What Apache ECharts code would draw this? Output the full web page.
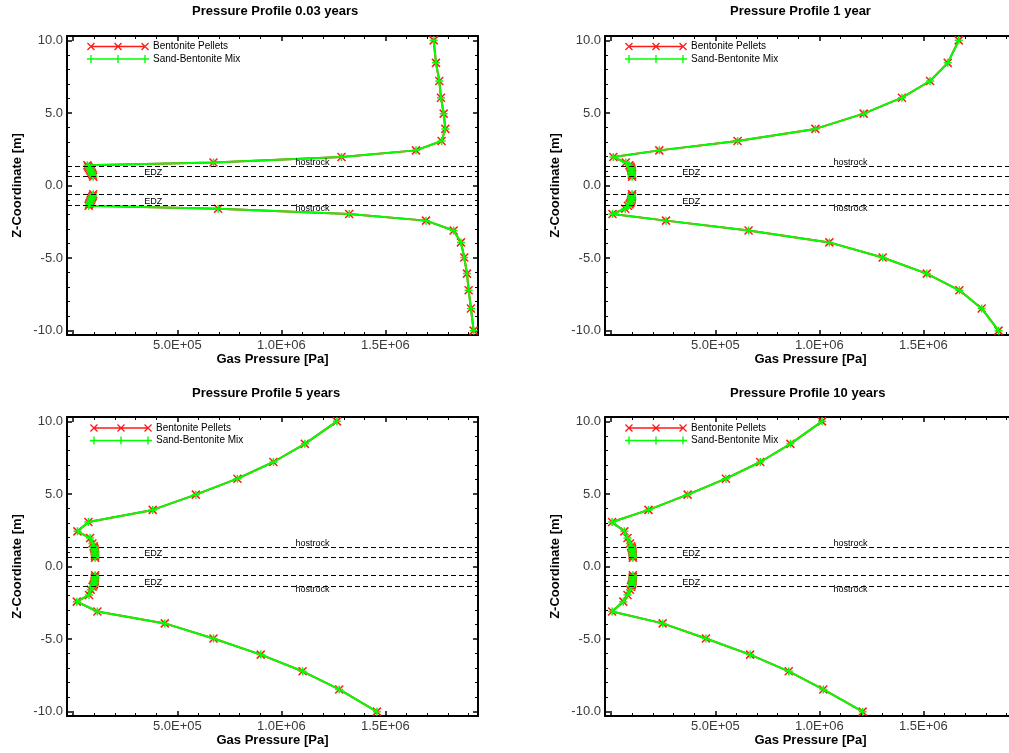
<!DOCTYPE html>
<html><head><meta charset="utf-8">
<script src="https://cdn.jsdelivr.net/npm/echarts@6/dist/echarts.min.js"></script>
<style>html,body{margin:0;padding:0;background:#fff}#c{width:1009px;height:753px}</style>
</head><body><div id="c"></div>
<script>
// ---------- data ----------
const seriesNames = ['Bentonite Pellets', 'Sand-Bentonite Mix'];
const titles = ['Pressure Profile 0.03 years', 'Pressure Profile 1 year', 'Pressure Profile 5 years', 'Pressure Profile 10 years'];
const xAxisName = 'Gas Pressure [Pa]';
const yAxisName = 'Z-Coordinate [m]';

// mesh z-coordinates (m), above and below the drift
const zUpper = [10.0, 8.45, 7.2, 6.05, 4.95, 3.9, 3.07, 2.42, 1.96, 1.58, 1.4, 1.3, 1.2, 1.1, 1.0, 0.9, 0.8, 0.7, 0.6];
const zLower = [-0.6, -0.7, -0.8, -0.9, -1.0, -1.1, -1.2, -1.3, -1.4, -1.6, -1.96, -2.42, -3.1, -3.92, -4.96, -6.07, -7.22, -8.47, -10.0];

// gas pressure (Pa) — both materials give the same profile
const p003Upper = [1732000, 1743000, 1759000, 1767000, 1780000, 1788000, 1770000, 1647000, 1289000, 674000, 68000, 72000, 76000, 80000, 84000, 88000, 91000, 94000, 96000];
const p003Lower = [96000, 94000, 91000, 88000, 85000, 82000, 79000, 77000, 74000, 696000, 1326000, 1695000, 1828000, 1863000, 1879000, 1892000, 1900000, 1911000, 1924000];
const p1Upper = [1670000, 1617000, 1532000, 1397000, 1213000, 981000, 607000, 231000, 10000, 70000, 87000, 92000, 95000, 97000, 98000, 99000, 100000, 100000, 100000];
const p1Lower = [100000, 100000, 99000, 98000, 97000, 95000, 92000, 88000, 80000, 67000, 6000, 263000, 660000, 1048000, 1304000, 1516000, 1673000, 1780000, 1861000];
const p5Upper = [1267000, 1113000, 962000, 789000, 589000, 382000, 73000, 20000, 81000, 92000, 98000, 100000, 102000, 103000, 104000, 104000, 105000, 105000, 105000];
const p5Lower = [105000, 105000, 104000, 104000, 103000, 102000, 100000, 97000, 93000, 84000, 76000, 17000, 116000, 440000, 674000, 901000, 1102000, 1278000, 1459000];
const p10Upper = [1013000, 861000, 716000, 551000, 367000, 179000, 4000, 63000, 78000, 90000, 95000, 98000, 100000, 101000, 102000, 103000, 103000, 104000, 104000];
const p10Lower = [104000, 104000, 103000, 103000, 102000, 101000, 100000, 98000, 95000, 90000, 78000, 58000, 4000, 247000, 455000, 667000, 853000, 1019000, 1208000];

const panelUpper = [p003Upper, p1Upper, p5Upper, p10Upper];
const panelLower = [p003Lower, p1Lower, p5Lower, p10Lower];

// zone boundaries and labels
const zoneLines = [1.32, 0.62, -0.63, -1.33];
const zoneLabelNames = ['hostrock', 'EDZ', 'EDZ', 'hostrock'];
const zoneLabelX = [1150000, 385000, 385000, 1150000];
const zoneLabelZ = [1.32, 0.62, -1.33, -1.33];
const zoneLabelSide = ['top', 'top', 'top', 'bottom'];

// axis ticks
const xRange = [-30000, 1945000];
const yRange = [-10.3, 10.3];
const xMajorTicks = [0, 500000, 1000000, 1500000];
const xLabelTicks = [500000, 1000000, 1500000];
const xMinorTicks = [100000, 200000, 300000, 400000, 600000, 700000, 800000, 900000, 1100000, 1200000, 1300000, 1400000, 1600000, 1700000, 1800000, 1900000];
const yMajorTicks = [-10, -5, 0, 5, 10];
const yMinorTicks = [-9, -8, -7, -6, -4, -3, -2, -1, 1, 2, 3, 4, 6, 7, 8, 9];

// ---------- layout / style ----------
const FONT = 'Liberation Sans, Arial, Helvetica, sans-serif';
const RED = '#ff1a1a', GREEN = '#00ff00';
const GW = 411, GH = 299;
const panels = [
  {left: 67, top: 36, titleLeft: 192, titleTop: 5, legendLeft: 87, legendTop: 41.5},
  {left: 605, top: 36, titleLeft: 730, titleTop: 5, legendLeft: 625, legendTop: 41.5},
  {left: 67, top: 417, titleLeft: 192, titleTop: 386.5, legendLeft: 90, legendTop: 423},
  {left: 605, top: 417, titleLeft: 730, titleTop: 386.5, legendLeft: 625, legendTop: 423}
];

const crossSym = 'path://M0,0L8,8M8,0L0,8';
const plusSym = 'path://M4,0L4,8M0,4L8,4';

function legendPath(kind) {
  const W = 62, cy = 4, cs = [4, 31, 58];
  let p = '';
  if (kind === 'x') {
    const t = 0.8, r = 3.5, d = 0.45;
    p += `M${cs[0]},${cy - t}L${cs[2]},${cy - t}L${cs[2]},${cy + t}L${cs[0]},${cy + t}Z`;
    cs.forEach(c => {
      p += `M${c - r + d},${cy - r - d}L${c + r + d},${cy + r - d}L${c + r - d},${cy + r + d}L${c - r - d},${cy - r + d}Z`;
      p += `M${c - r + d},${cy + r + d}L${c - r - d},${cy + r - d}L${c + r - d},${cy - r - d}L${c + r + d},${cy - r + d}Z`;
    });
  } else {
    const t = 0.8, w = 0.7;
    p += `M0,${cy - t}L${W},${cy - t}L${W},${cy + t}L0,${cy + t}Z`;
    cs.forEach(c => {
      p += `M${c - w},0L${c + w},0L${c + w},8L${c - w},8Z`;
    });
  }
  return 'path://' + p;
}

function fmtSci(v) {
  const e = Math.floor(Math.log10(v) + 1e-9);
  const m = v / Math.pow(10, e);
  return m.toFixed(1) + 'E+' + String(e).padStart(2, '0');
}

const grid = [], xAxis = [], yAxis = [], series = [], title = [], legend = [];

panels.forEach((pn, gi) => {
  grid.push({left: pn.left, top: pn.top, width: GW, height: GH, outerBoundsMode: 'none', containLabel: false});
  title.push({text: titles[gi], left: pn.titleLeft, top: pn.titleTop, padding: 0,
    textStyle: {fontSize: 13, fontWeight: 'bold', color: '#000', fontFamily: FONT}});
  legend.push({
    left: pn.legendLeft, top: pn.legendTop, orient: 'vertical', padding: 0,
    itemWidth: 62, itemHeight: 8, itemGap: 2.5, selectedMode: false,
    itemStyle: {borderWidth: 0},
    textStyle: {fontSize: 10, color: '#000', fontFamily: FONT, padding: [0, 0, 0, -1]},
    data: [{name: seriesNames[0], icon: legendPath('x')}, {name: seriesNames[1], icon: legendPath('plus')}]
  });

  const base = {gridIndex: gi, type: 'value', splitLine: {show: false}, axisPointer: {show: false}};
  const lineOn = {show: true, onZero: false, lineStyle: {color: '#000', width: 2}};
  const lineOff = {show: false, onZero: false};
  const majT = c => ({show: true, inside: true, length: 5, customValues: c, lineStyle: {color: '#000', width: 1.5}});
  const minT = c => ({show: true, inside: true, length: 3, customValues: c, lineStyle: {color: '#000', width: 1}});
  const xb = Object.assign({}, base, {min: xRange[0], max: xRange[1]});
  const yb = Object.assign({}, base, {min: yRange[0], max: yRange[1]});

  xAxis.push(
    Object.assign({}, xb, {position: 'bottom', axisLine: lineOn, axisTick: majT(xMajorTicks),
      axisLabel: {show: true, customValues: xLabelTicks, formatter: fmtSci, color: '#3a3a3a', fontSize: 13, fontFamily: FONT, margin: 4},
      name: xAxisName, nameLocation: 'middle', nameGap: 18,
      nameTextStyle: {fontWeight: 'bold', fontSize: 13, color: '#000', fontFamily: FONT}}),
    Object.assign({}, xb, {position: 'bottom', axisLine: lineOff, axisTick: minT(xMinorTicks), axisLabel: {show: false}}),
    Object.assign({}, xb, {position: 'top', axisLine: lineOn, axisTick: majT(xMajorTicks), axisLabel: {show: false}}),
    Object.assign({}, xb, {position: 'top', axisLine: lineOff, axisTick: minT(xMinorTicks), axisLabel: {show: false}})
  );
  yAxis.push(
    Object.assign({}, yb, {position: 'left', axisLine: lineOn, axisTick: majT(yMajorTicks),
      axisLabel: {show: true, customValues: yMajorTicks, formatter: v => v.toFixed(1), color: '#3a3a3a', fontSize: 13, fontFamily: FONT, margin: 4},
      name: yAxisName, nameLocation: 'middle', nameGap: 43,
      nameTextStyle: {fontWeight: 'bold', fontSize: 13, color: '#000', fontFamily: FONT}}),
    Object.assign({}, yb, {position: 'left', axisLine: lineOff, axisTick: minT(yMinorTicks), axisLabel: {show: false}}),
    Object.assign({}, yb, {position: 'right', axisLine: lineOn, axisTick: majT(yMajorTicks), axisLabel: {show: false}}),
    Object.assign({}, yb, {position: 'right', axisLine: lineOff, axisTick: minT(yMinorTicks), axisLabel: {show: false}})
  );

  const up = panelUpper[gi].map((p, i) => [p, zUpper[i]]);
  const lo = panelLower[gi].map((p, i) => [p, zLower[i]]);
  const mk = (name, color, sym, data, z, extra) => Object.assign({
    type: 'line', name, xAxisIndex: gi * 4, yAxisIndex: gi * 4, data,
    symbol: sym, symbolSize: 8, showSymbol: true, z,
    lineStyle: {color, width: 2},
    itemStyle: {color, borderColor: color, borderWidth: 1.5},
    emphasis: {disabled: true}, silent: true
  }, extra || {});

  const zoneExtra = {
    markLine: {
      silent: true, symbol: ['none', 'none'], label: {show: false},
      lineStyle: {type: [5, 3], color: '#000', width: 1},
      data: zoneLines.map(v => ({yAxis: v}))
    },
    markPoint: {
      silent: true, symbol: 'circle', symbolSize: 1, itemStyle: {color: 'rgba(0,0,0,0)'},
      label: {show: true, formatter: '{b}', fontSize: 9, color: '#000', fontFamily: FONT, lineHeight: 9},
      data: zoneLabelNames.map((n, i) => ({
        name: n, coord: [zoneLabelX[i], zoneLabelZ[i]],
        label: {position: zoneLabelSide[i], distance: 0, offset: [0, zoneLabelSide[i] === 'top' ? 1.5 : -1]}
      }))
    }
  };

  series.push(
    mk(seriesNames[0], RED, crossSym, up, 2, zoneExtra),
    mk(seriesNames[0], RED, crossSym, lo, 2),
    mk(seriesNames[1], GREEN, plusSym, up, 3),
    mk(seriesNames[1], GREEN, plusSym, lo, 3)
  );
});

const chart = echarts.init(document.getElementById('c'), null, {renderer: 'canvas'});
chart.setOption({
  animation: false,
  backgroundColor: '#fff',
  textStyle: {fontFamily: FONT},
  title, legend, grid, xAxis, yAxis, series
});
</script>
</body></html>
